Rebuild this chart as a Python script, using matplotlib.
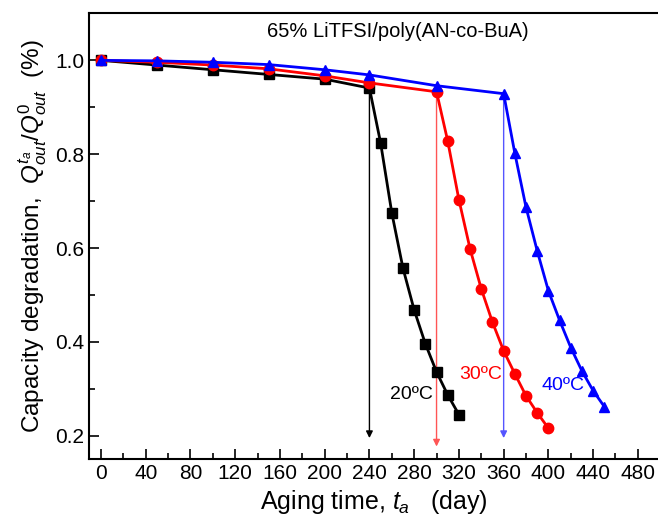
import matplotlib.pyplot as plt
from matplotlib.ticker import MultipleLocator

plt.rcParams['font.family'] = ['Liberation Sans', 'DejaVu Sans']
plt.rcParams['mathtext.fontset'] = 'custom'
plt.rcParams['mathtext.rm'] = 'Liberation Sans'
plt.rcParams['mathtext.it'] = 'Liberation Sans:italic'

# 20 C, squares
t_20 = [0, 50, 100, 150, 200, 240, 250, 260, 270, 280, 290, 300, 310, 320]
q_20 = [1.0, 0.99, 0.98, 0.97, 0.96, 0.941, 0.824, 0.675, 0.557, 0.468, 0.396, 0.336, 0.287, 0.245]

# 30 C, circles
t_30 = [0, 50, 100, 150, 200, 240, 300, 310, 320, 330, 340, 350, 360, 370, 380, 390, 400]
q_30 = [1.0, 0.996, 0.99, 0.982, 0.967, 0.952, 0.933, 0.828, 0.703, 0.598, 0.513, 0.442, 0.381,
        0.332, 0.285, 0.249, 0.216]

# 40 C, triangles
t_40 = [0, 50, 100, 150, 200, 240, 300, 360, 370, 380, 390, 400, 410, 420, 430, 440, 450]
q_40 = [1.0, 0.999, 0.996, 0.991, 0.98, 0.969, 0.946, 0.929, 0.802, 0.687, 0.594, 0.509, 0.446,
        0.388, 0.338, 0.296, 0.262]

# drop-off points marked with arrows
arrow_t = [240, 300, 360]
arrow_top = [0.941, 0.933, 0.929]
arrow_bottom = [0.195, 0.177, 0.195]

fig = plt.figure(figsize=(6.58, 5.30), dpi=100)
ax = fig.add_axes([0.1353, 0.1345, 0.8647, 0.841])

ax.plot(t_20, q_20, '-s', color='black', lw=2, ms=6.5, zorder=3)
ax.plot(t_30, q_30, '-o', color='red', lw=2, ms=7.5, zorder=3)
ax.plot(t_40, q_40, '-^', color='blue', lw=2, ms=7.5, zorder=4)

arrow_cols = ['black', '#ff5555', '#5555ff']
for t, y0, y1, c in zip(arrow_t, arrow_top, arrow_bottom, arrow_cols):
    ax.annotate('', xy=(t, y1), xytext=(t, y0),
                arrowprops=dict(arrowstyle='-|>', color=c, lw=1.0,
                                mutation_scale=10, shrinkA=0, shrinkB=0),
                zorder=2)

ax.text(265, 1.062, '65% LiTFSI/poly(AN-co-BuA)', fontsize=14.5, ha='center', va='center')
ax.text(258, 0.287, '20ºC', fontsize=14, color='black', va='center')
ax.text(320, 0.331, '30ºC', fontsize=14, color='red', va='center')
ax.text(394, 0.308, '40ºC', fontsize=14, color='blue', va='center')

ax.set_xlim(-10.7, 498)
ax.set_ylim(0.151, 1.101)
ax.xaxis.set_major_locator(MultipleLocator(40))
ax.xaxis.set_minor_locator(MultipleLocator(20))
ax.yaxis.set_major_locator(MultipleLocator(0.2))
ax.yaxis.set_minor_locator(MultipleLocator(0.1))
ax.tick_params(which='both', direction='in', labelsize=15, width=1.2)
ax.tick_params(which='major', length=7)
ax.tick_params(which='minor', length=4)
ax.spines['right'].set_visible(False)
for s in ['left', 'bottom', 'top']:
    ax.spines[s].set_linewidth(1.5)

ax.set_xlabel(r'Aging time, $t_a$   (day)', fontsize=18)
ax.set_ylabel(r'Capacity degradation,  $Q_{out}^{t_a}/Q_{out}^{0}$  (%)', fontsize=17.5)

fig.savefig('out.png', dpi=100)
